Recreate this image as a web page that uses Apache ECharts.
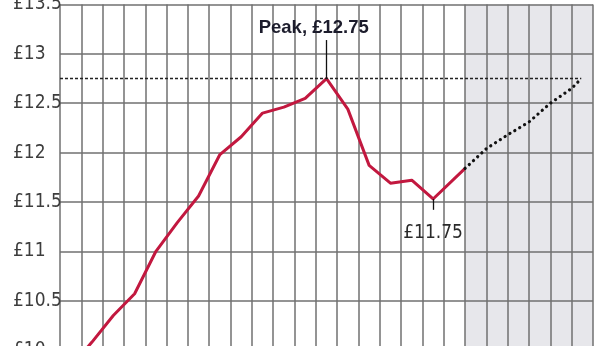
<!DOCTYPE html>
<html>
<head>
<meta charset="utf-8">
<script src="https://cdn.jsdelivr.net/npm/echarts@6/dist/echarts.min.js"></script>
<style>html,body{margin:0;padding:0;background:#fff}#c{width:616px;height:346px}</style>
</head>
<body>
<div id="c"></div>
<script>
// x = time position in grid columns (each column one period), y = £ value
var actualX = [0.5, 1.5, 2.5, 3.5, 4.5, 5.5, 6.5, 7.5, 8.5, 9.5, 10.5, 11.5, 12.5, 13.5, 14.5, 15.5, 16.5, 17.5, 19];
var actualY = [9.83, 10.08, 10.35, 10.57, 11.0, 11.29, 11.56, 11.98, 12.16, 12.40, 12.46, 12.55, 12.75, 12.44, 11.87, 11.69, 11.72, 11.53, 11.84];
var forecastX = [19, 20, 21, 22, 23, 24, 24.45];
var forecastY = [11.84, 12.04, 12.18, 12.31, 12.50, 12.65, 12.75];
var yTicks = [10, 10.5, 11, 11.5, 12, 12.5, 13, 13.5];
var peakValue = 12.75, peakX = 12.5, peakLabel = 'Peak, £12.75';
var troughValue = 11.53, troughX = 17.5, troughLabel = '£11.75';
var forecastStart = 19, forecastEnd = 25;

function pairs(xs, ys){ return xs.map(function(x,i){ return [x, ys[i]]; }); }

var chart = echarts.init(document.getElementById('c'), null, {renderer:'canvas'});
var narrow = "'Liberation Sans Narrow','DejaVu Sans Condensed',sans-serif";
chart.setOption({
  animation: false,
  grid: {left: 60, right: 23, top: 4.5, height: 345.5, containLabel: false, outerBoundsMode: 'none'},
  xAxis: {
    type: 'value', min: 0, max: 25, interval: 1, z: 1.5,
    axisLine: {show: false}, axisTick: {show: false}, axisLabel: {show: false},
    splitLine: {show: true, lineStyle: {color: '#717171', width: 1.5}}
  },
  yAxis: {
    type: 'value', min: yTicks[0], max: yTicks[yTicks.length-1], interval: 0.5, z: 1.5,
    axisLine: {show: false}, axisTick: {show: false},
    axisLabel: {
      formatter: function(v){ return '£' + v; },
      align: 'left', margin: 47, color: '#3d3d3d', fontSize: 19, fontFamily: narrow
    },
    splitLine: {show: true, lineStyle: {color: '#717171', width: 1.5}}
  },
  series: [
    {
      type: 'line', data: [], z: 1, silent: true,
      markArea: {silent: true, itemStyle: {color: '#e7e7eb'},
        data: [[{xAxis: forecastStart}, {xAxis: forecastEnd}]]}
    },
    {
      type: 'line', z: 3, data: pairs(actualX, actualY), symbol: 'none',
      lineStyle: {color: '#c2183f', width: 3, join: 'round'}
    },
    {
      type: 'line', z: 3, data: pairs(forecastX, forecastY), symbol: 'none',
      lineStyle: {color: '#111', width: 3.2, type: [0.1, 5.6], cap: 'round'}
    },
    {
      type: 'line', z: 4, data: [], silent: true,
      markLine: {
        silent: true, symbol: 'none', label: {show: false}, animation: false,
        data: [
          [{coord: [0, peakValue], lineStyle: {color: '#222', width: 1.3, type: [3, 2]}}, {coord: [forecastX[forecastX.length-1], peakValue]}],
          [{coord: [peakX, peakValue], lineStyle: {color: '#111', width: 1.3, type: 'solid'}}, {coord: [peakX, 13.14]}],
          [{coord: [troughX, troughValue], lineStyle: {color: '#111', width: 1.3, type: 'solid'}}, {coord: [troughX, 11.42]}]
        ]
      },
      markPoint: {
        silent: true, symbol: 'circle', symbolSize: 1, itemStyle: {color: 'rgba(0,0,0,0)'},
        data: [
          {name: peakLabel, coord: [11.9, 13.26], label: {show: true, position: 'inside', formatter: '{b}',
            color: '#1c1c2c', fontSize: 18.5, fontWeight: 'bold', fontFamily: "'Liberation Sans',Arial,sans-serif"}},
          {name: troughLabel, coord: [troughX, 11.185], label: {show: true, position: 'inside', formatter: '{b}',
            color: '#2a2a2a', fontSize: 19, fontFamily: narrow}}
        ]
      }
    }
  ]
});
</script>
</body>
</html>
